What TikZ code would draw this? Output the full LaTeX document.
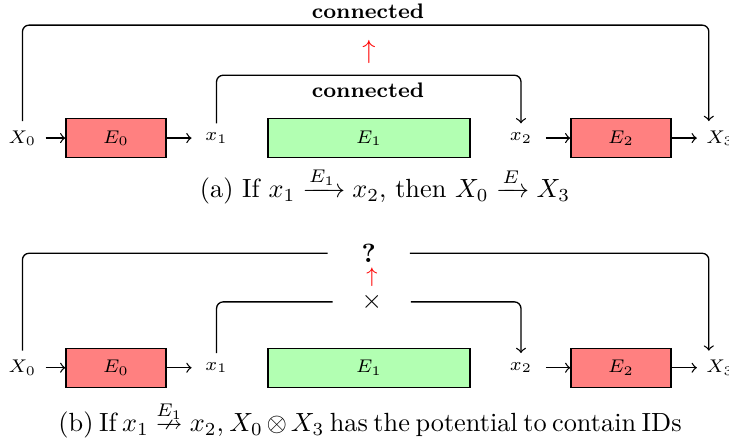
\documentclass[tikz,border=0pt]{standalone}
\usepackage{amsmath,amssymb}

\begin{document}
\begin{tikzpicture}[
    line width=0.5pt,
    lbl/.style={font=\fontsize{7.4}{9}\selectfont},
    var/.style={lbl, minimum width=0.65cm},
    blk/.style={lbl, draw, minimum height=0.52cm},
    ebox/.style={blk, fill=red!50, minimum width=1.337cm},
    mbox/.style={blk, fill=green!30, minimum width=2.70cm},
    note/.style={font=\footnotesize\bfseries},
    link/.style={rounded corners=2.5pt},
    up/.style={text=red}
]
    \useasboundingbox (0, 0) rectangle (9.746, 5.896);
    % the two rows of blocks
    \foreach \r/\y in {a/4.05, b/0.98} {
        \node[lbl] (X0\r) at (0.30, \y) {$X_0$};
        \node[ebox] (E0\r) at (1.551, \y) {$E_0$};
        \node[var] (x1\r) at (2.895, \y) {$x_1$};
        \node[mbox] (E1\r) at (4.933, \y) {$E_1$};
        \node[var] (x2\r) at (6.965, \y) {$x_2$};
        \node[ebox] (E2\r) at (8.302, \y) {$E_2$};
        \node[lbl] (X3\r) at (9.626, \y) {$X_3$};
        \draw[->]
            (X0\r) edge (E0\r)
            (E0\r) edge (x1\r)
            (x2\r) edge (E2\r)
            (E2\r) edge (X3\r);
    }

    % (a)
    \coordinate (topa) at (4.93, 5.56);
    \coordinate (mida) at (4.93, 4.89);
    \node[note] (cona) at (4.92, 5.74) {connected};
    \node[note] (conb) at (4.92, 4.69) {connected};
    \node[up] (upa) at (4.933, 5.2) {$\uparrow$};
    \draw[link, ->] (X0a.north) |- (topa) -| ([xshift=-0.15cm]X3a.north);
    \draw[link, ->] (x1a.north) |- (mida) -| (x2a.north);
    \node (capa) at (5.147, 3.409)
        {(a) If $x_1 \xrightarrow{E_1} x_2$, then $X_0 \xrightarrow{E} X_3$};

    % (b)
    \node[minimum width=1.08cm, inner sep=0pt, font=\bfseries] (qb) at (4.93, 2.51) {?};
    \node[minimum width=1.03cm, inner sep=0pt] (nob) at (4.97, 1.86) {$\times$};
    \node[up, font=\footnotesize] (upb) at (4.973, 2.19) {$\uparrow$};
    \draw[link] (X0b.north) |- (qb.west);
    \draw[link, ->] (qb.east) -| ([xshift=-0.15cm]X3b.north);
    \draw[link] (x1b.north) |- (nob.west);
    \draw[link, ->] (nob.east) -| (x2b.north);
    \node (capb) at (4.947, 0.281)
        {\spaceskip=2.1pt\relax\medmuskip=2.5mu
         (b) If $x_1 \stackrel{E_1}{\nrightarrow} x_2$, $X_0 \otimes X_3$ has the potential to contain IDs};
\end{tikzpicture}
\end{document}
